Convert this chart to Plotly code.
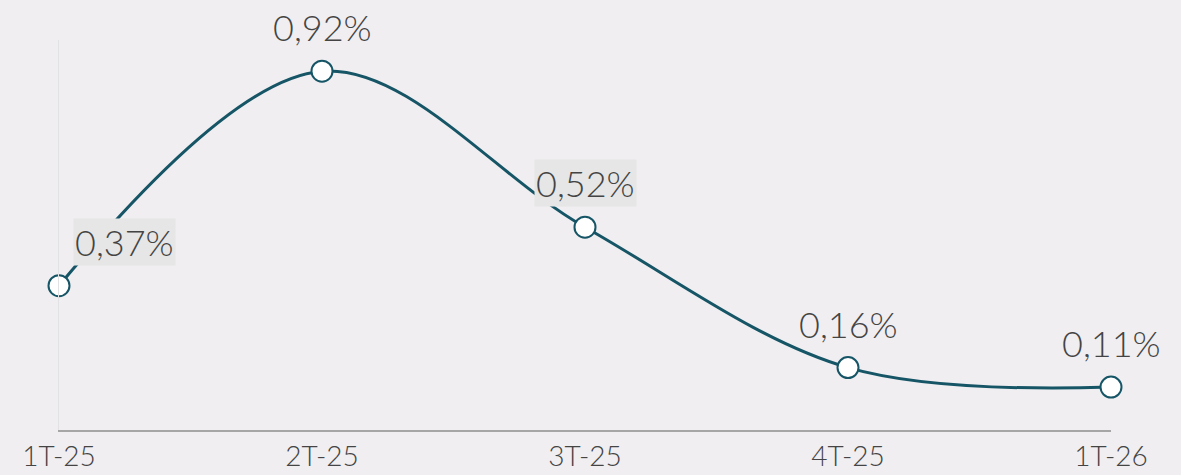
import plotly.graph_objects as go

categories = ["1T-25", "2T-25", "3T-25", "4T-25", "1T-26"]
values = [0.37, 0.92, 0.52, 0.16, 0.11]
labels = ["0,37%", "0,92%", "0,52%", "0,16%", "0,11%"]

xpos = list(range(len(categories)))
FONT = "Lato"
TEXT = "#444444"
BG = "#F0EEF1"
LINE = "#155566"

fig = go.Figure()
fig.add_trace(go.Scatter(
    x=xpos, y=values, mode="lines+markers",
    line=dict(color=LINE, width=3, shape="spline", smoothing=1.0),
    marker=dict(size=21, color="white", line=dict(color=LINE, width=2)),
    hoverinfo="skip", cliponaxis=False,
))

boxed = {0, 2}
xshift = {0: 65}
for i, (x, v, t) in enumerate(zip(xpos, values, labels)):
    fig.add_annotation(
        x=x, y=v, text=t, showarrow=False,
        yshift=44, xshift=xshift.get(i, 0),
        font=dict(family=FONT, size=36, color=TEXT, weight=300),
        bgcolor="#E6E6E6" if i in boxed else "rgba(0,0,0,0)",
        borderpad=1,
    )

fig.update_layout(
    width=1181, height=475,
    margin=dict(l=59, r=70, t=40, b=45, autoexpand=False),
    paper_bgcolor=BG, plot_bgcolor=BG,
    showlegend=False,
    xaxis=dict(
        range=[0, 4], tickvals=xpos, ticktext=categories,
        showgrid=False, zeroline=False, showline=True, automargin=False,
        linecolor="#A6A6A6", linewidth=2, ticks="",
        tickfont=dict(family=FONT, size=28, color=TEXT, weight=300),
    ),
    yaxis=dict(
        range=[0, 1.0], showticklabels=False, showgrid=False,
        zeroline=False, showline=True, linecolor="#E2E1E4", linewidth=1,
        ticks="", automargin=False,
    ),
)

fig.write_html("out.html", config={"displayModeBar": False},
               post_script="document.body.style.margin='0';")
